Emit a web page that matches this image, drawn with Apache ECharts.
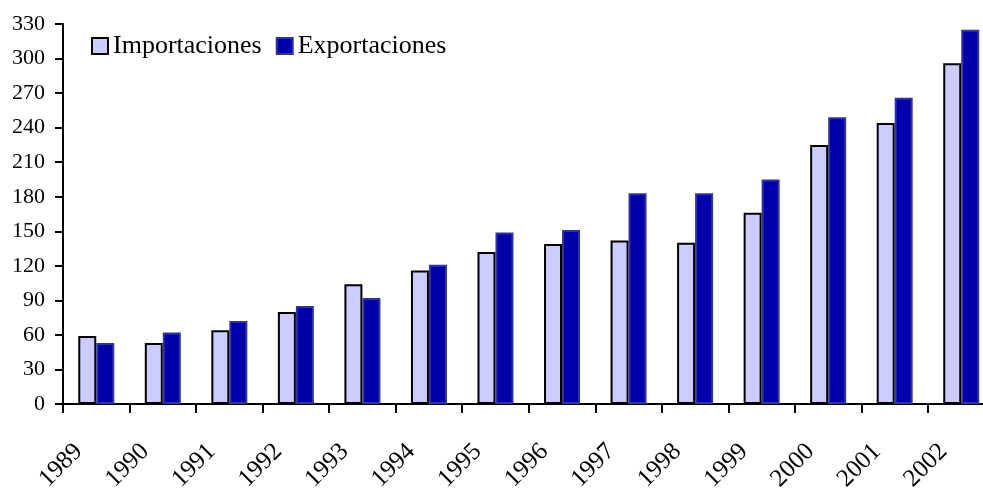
<!DOCTYPE html>
<html>
<head>
<meta charset="utf-8">
<script src="https://cdn.jsdelivr.net/npm/echarts@6/dist/echarts.min.js"></script>
<style>html,body{margin:0;padding:0;background:#fff}#c{width:983px;height:492px}</style>
</head>
<body>
<div id="c"></div>
<script>
const years = ['1989','1990','1991','1992','1993','1994','1995','1996','1997','1998','1999','2000','2001','2002'];
const importaciones = [59, 53, 64, 80, 104, 116, 132, 139, 142, 140, 166, 225, 244, 296];
const exportaciones = [53, 62, 72, 85, 92, 121, 149, 151, 183, 183, 195, 249, 266, 325];
const yTicks = {min: 0, max: 330, interval: 30};

const font = '"Liberation Serif", "Times New Roman", serif';
const chart = echarts.init(document.getElementById('c'), null, {renderer: 'canvas'});
chart.setOption({
  animation: false,
  backgroundColor: '#fff',
  grid: {left: 63, width: 931.5, top: 24, height: 380, containLabel: false, outerBoundsMode: 'none'},
  legend: {
    left: 86, top: 28, itemWidth: 16, itemHeight: 16, itemGap: 14,
    icon: 'rect',
    textStyle: {fontFamily: font, fontSize: 26, color: '#000'},
    data: ['Importaciones', 'Exportaciones']
  },
  xAxis: {
    type: 'category', data: years, boundaryGap: true,
    axisLine: {lineStyle: {color: '#000', width: 2}},
    axisTick: {show: true, interval: 0, length: 9, lineStyle: {color: '#000', width: 2}},
    axisLabel: {interval: 0, rotate: 45, margin: 26, padding: [0, 25, 0, 0],
      fontFamily: font, fontSize: 25, color: '#000'}
  },
  yAxis: {
    type: 'value', min: yTicks.min, max: yTicks.max, interval: yTicks.interval,
    axisLine: {show: true, lineStyle: {color: '#000', width: 2}},
    axisTick: {show: true, length: 8, lineStyle: {color: '#000', width: 2}},
    splitLine: {show: false},
    axisLabel: {margin: 18, fontFamily: font, fontSize: 22, color: '#000'}
  },
  series: [
    {name: 'Importaciones', type: 'bar', data: importaciones, barWidth: 18, barGap: '0%',
     itemStyle: {color: '#CCCCFF', borderColor: '#000', borderWidth: 2}},
    {name: 'Exportaciones', type: 'bar', data: exportaciones, barWidth: 18, barGap: '0%',
     itemStyle: {color: '#0000AA', borderColor: '#33339F', borderWidth: 2}}
  ]
});
</script>
</body>
</html>
